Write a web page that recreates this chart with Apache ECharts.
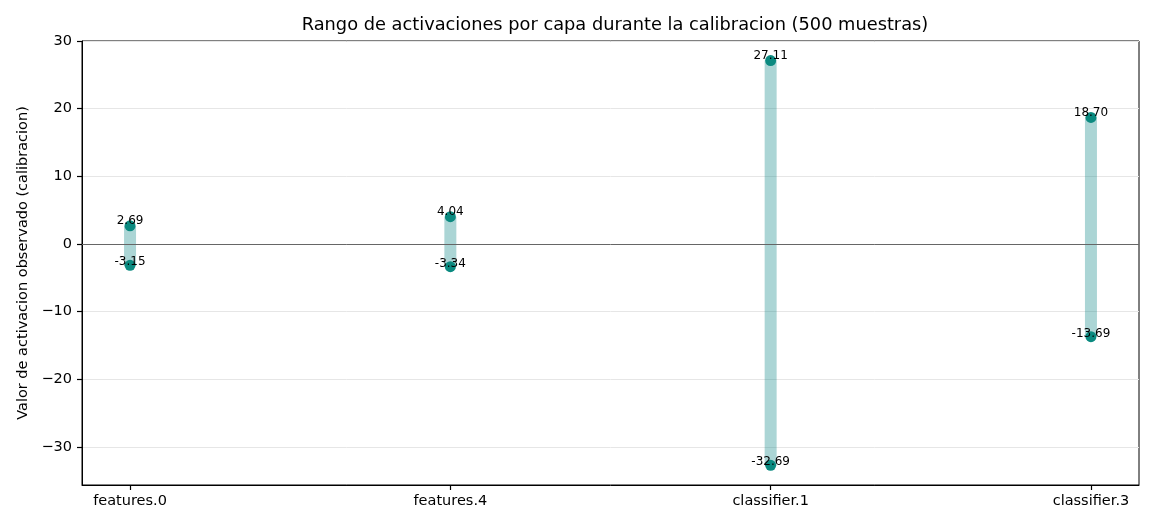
<!DOCTYPE html>
<html>
<head>
<meta charset="utf-8">
<script src="https://cdn.jsdelivr.net/npm/echarts@6/dist/echarts.min.js"></script>
<style>
html, body { margin: 0; padding: 0; background: #fff; }
#chart { width: 1155px; height: 528px; }
</style>
</head>
<body>
<div id="chart"></div>
<script>
var layers = ['features.0', 'features.4', 'classifier.1', 'classifier.3']
var maxValues = [2.69, 4.04, 27.11, 18.70]
var minValues = [-3.15, -3.34, -32.69, -13.69]

function renderRangeChart() {
	var myEchart = echarts.init(document.getElementById('chart'))
	var rangeData = []
	var maxData = []
	var minData = []
	layers.forEach(function(name, i) {
		rangeData.push([i, minValues[i], maxValues[i]])
		maxData.push([i, maxValues[i]])
		minData.push([i, minValues[i]])
	})
	var font = 'DejaVu Sans'
	var option = {
		animation: false,
		textStyle: { fontFamily: font },
		title: {
			text: 'Rango de activaciones por capa durante la calibracion (500 muestras)',
			left: 610,
			textAlign: 'center',
			top: 11,
			textStyle: {
				fontFamily: font,
				fontSize: 17.8,
				fontWeight: 'normal',
				color: '#000'
			}
		},
		grid: {
			left: 82,
			right: 16,
			top: 41,
			bottom: 43,
			show: true,
			borderColor: '#000',
			borderWidth: 1
		},
		xAxis: {
			type: 'value',
			min: -0.15,
			max: 3.15,
			splitLine: { show: false },
			axisLine: { show: true, onZero: false, lineStyle: { color: '#000', width: 1 } },
			axisTick: {
				show: true,
				customValues: [0, 1, 2, 3],
				length: 5,
				lineStyle: { color: '#000', width: 1.2 }
			},
			axisLabel: {
				customValues: [0, 1, 2, 3],
				color: '#000',
				fontSize: 14.5,
				margin: 9,
				formatter: function(v) {
					return layers[Math.round(v)]
				}
			}
		},
		yAxis: {
			type: 'value',
			min: -35.6,
			max: 30,
			splitNumber: 6,
			name: 'Valor de activacion observado (calibracion)',
			nameLocation: 'middle',
			nameGap: 51,
			nameTextStyle: { fontSize: 14.5, color: '#000', fontFamily: font },
			axisLine: { show: true, onZero: false, lineStyle: { color: '#000', width: 1 } },
			axisTick: {
				show: true,
				length: 5,
				lineStyle: { color: '#000', width: 1.2 }
			},
			axisLabel: {
				color: '#000',
				fontSize: 14.5,
				margin: 10,
				showMinLabel: false,
				formatter: function(v) {
					return String(v).replace('-', '\u2212')
				}
			},
			splitLine: {
				show: true,
				lineStyle: { color: '#e6e6e6', width: 1 }
			}
		},
		series: [{
			name: 'rango',
			type: 'custom',
			data: rangeData,
			z: 2,
			renderItem: function(params, api) {
				var top = api.coord([api.value(0), api.value(2)])
				var bottom = api.coord([api.value(0), api.value(1)])
				return {
					type: 'rect',
					shape: { x: top[0] - 6, y: top[1], width: 12, height: bottom[1] - top[1] },
					style: { fill: 'rgba(0,128,128,0.33)' }
				}
			},
			markLine: {
				silent: true,
				symbol: ['none', 'none'],
				label: { show: false },
				lineStyle: { color: '#666', width: 1, type: 'solid' },
				data: [{ yAxis: 0 }]
			}
		}, {
			name: 'max',
			type: 'scatter',
			data: maxData,
			symbolSize: 11,
			z: 3,
			itemStyle: { color: '#0b8a80', opacity: 1 },
			label: {
				show: true,
				position: 'inside',
				offset: [0, -5],
				color: '#000',
				fontSize: 12,
				fontFamily: font,
				formatter: function(p) { return p.value[1].toFixed(2) }
			}
		}, {
			name: 'min',
			type: 'scatter',
			data: minData,
			symbolSize: 11,
			z: 3,
			itemStyle: { color: '#0b8a80', opacity: 1 },
			label: {
				show: true,
				position: 'inside',
				offset: [0, -3],
				color: '#000',
				fontSize: 12,
				fontFamily: font,
				formatter: function(p) { return p.value[1].toFixed(2) }
			}
		}]
	};
	myEchart.setOption(option)
}
renderRangeChart()
</script>
</body>
</html>
